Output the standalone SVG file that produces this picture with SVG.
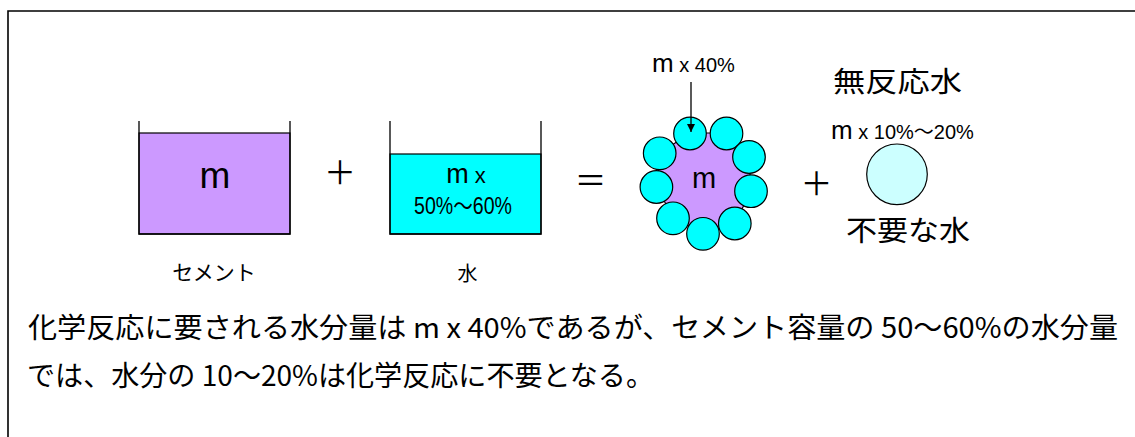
<svg xmlns="http://www.w3.org/2000/svg" width="1135" height="437" viewBox="0 0 1135 437">
<style>
  .lat { font-family: "Liberation Sans", "Noto Sans CJK JP", sans-serif; fill: #000; }
  .jp { font-family: "Noto Sans CJK JP", "Liberation Sans", sans-serif; fill: #000; }
  .ln { stroke: #000; stroke-width: 1.3; fill: none; }
  .bd { stroke: #000; stroke-width: 1.2; }
  .cy { fill: #00ffff; stroke: #000; stroke-width: 1.2; }
</style>
<defs>
  <marker id="ah" markerWidth="8" markerHeight="12" refX="8" refY="4" orient="auto" markerUnits="userSpaceOnUse">
    <path d="M0,0 L8,4 L0,8 Z" fill="#000"/>
  </marker>
</defs>
<rect width="1135" height="437" fill="#fff"/>
<path d="M8,437 V11 H1135" fill="none" stroke="#000" stroke-width="1.6"/>

<g id="cement">
  <rect x="139" y="133" width="151" height="101" fill="#cc99ff" class="bd"/>
  <path class="ln" d="M139,121 V234 H290 V121"/>
  <text class="lat" x="215" y="188" font-size="37" text-anchor="middle">m</text>
  <text class="jp" x="214" y="280" font-size="21" text-anchor="middle">セメント</text>
</g>

<g id="plus1">
  <text class="jp" x="340" y="184" font-size="32" text-anchor="middle">＋</text>
</g>

<g id="water">
  <rect x="390" y="154" width="151" height="80" fill="#00ffff" class="bd"/>
  <path class="ln" d="M390,121 V234 H541 V121"/>
  <text class="lat" x="466" y="183" font-size="27" text-anchor="middle">m<tspan font-size="22"> x</tspan></text>
  <text class="lat" x="463" y="214" font-size="23" text-anchor="middle" textLength="98" lengthAdjust="spacingAndGlyphs">50%～60%</text>
  <text class="jp" x="467.5" y="281" font-size="20" text-anchor="middle">水</text>
</g>

<g id="equals">
  <text class="jp" x="590.5" y="192" font-size="32" text-anchor="middle">＝</text>
</g>

<g id="hydrated">
  <polygon points="690,133 727,133 749,157 751,191 735,223 703,233 673,218 657,187 660,153" fill="#cc99ff" class="bd"/>
  <circle class="cy" cx="690" cy="133.5" r="16.3"/>
  <circle class="cy" cx="726.5" cy="133.5" r="16.3"/>
  <circle class="cy" cx="749" cy="157" r="16.3"/>
  <circle class="cy" cx="751" cy="191.2" r="16.3"/>
  <circle class="cy" cx="734.8" cy="223.5" r="16.3"/>
  <circle class="cy" cx="703" cy="233.8" r="16.3"/>
  <circle class="cy" cx="673" cy="218.3" r="16.3"/>
  <circle class="cy" cx="656.4" cy="187" r="16.3"/>
  <circle class="cy" cx="659.7" cy="153.3" r="16.3"/>
  <text class="lat" x="704" y="188" font-size="29" text-anchor="middle">m</text>
  <text class="lat" x="652" y="72" font-size="26">m<tspan font-size="20"> x 40%</tspan></text>
</g>

<g id="plus2">
  <text class="jp" x="816.5" y="195" font-size="32" text-anchor="middle">＋</text>
</g>

<g id="unreacted">
  <circle cx="897" cy="174.3" r="30.3" fill="#ccffff" class="bd"/>
  <text class="jp" x="833" y="92" font-size="28" textLength="129" lengthAdjust="spacingAndGlyphs">無反応水</text>
  <text class="lat" x="831" y="139" font-size="26">m<tspan font-size="20"> x 10%～20%</tspan></text>
  <text class="jp" x="846" y="241" font-size="28" textLength="124" lengthAdjust="spacingAndGlyphs">不要な水</text>
</g>

<g id="connectors">
  <line x1="691" y1="82" x2="691" y2="132" stroke="#000" stroke-width="1.3" marker-end="url(#ah)"/>
</g>

<g id="caption">
  <text class="jp" x="28" y="338" font-size="28" textLength="1090" lengthAdjust="spacingAndGlyphs">化学反応に要される水分量は m x 40%であるが、セメント容量の 50～60%の水分量</text>
  <text class="jp" x="27" y="386" font-size="28" textLength="627" lengthAdjust="spacingAndGlyphs">では、水分の 10～20%は化学反応に不要となる。</text>
</g>
</svg>
